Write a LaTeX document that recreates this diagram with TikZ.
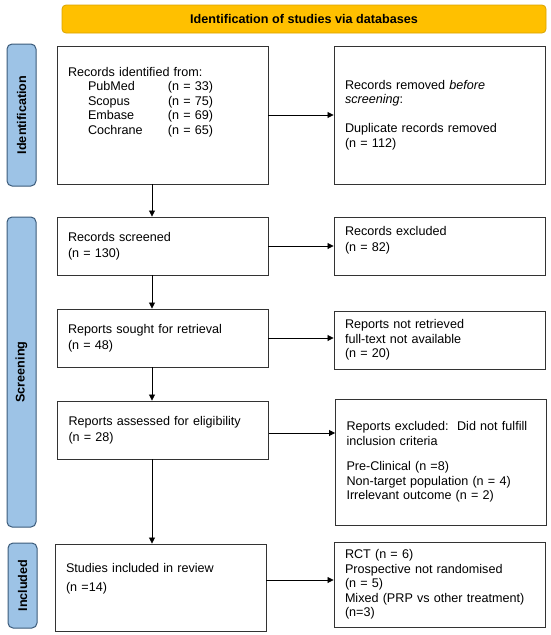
\documentclass[tikz,border=0pt]{standalone}
\usepackage{fontspec}
\setmainfont{Liberation Sans}
\usepackage{xcolor}
\usepackage{tikz}
\usetikzlibrary{arrows.meta}

\definecolor{bannergold}{HTML}{FFC000}
\definecolor{bannerline}{HTML}{D9A300}
\definecolor{phaseblue}{HTML}{9DC3E6}
\definecolor{phaseline}{HTML}{3B5B7A}

\begin{document}
\begin{tikzpicture}[
  x=1pt, y=-1pt,
  every node/.style={font=\fontsize{12.6}{14.5}\selectfont},
  >={Triangle[length=6pt, width=6pt]},
  box/.style={draw=black!80, line width=0.9pt, inner xsep=11pt, inner ysep=0pt,
              text width=189pt, align=left, minimum height=58pt},
  phase/.style={draw=phaseline, fill=phaseblue, line width=1pt, rounded corners=5pt,
                rotate=90, minimum height=29pt, inner sep=0pt,
                font=\fontsize{12.6}{14.5}\selectfont\bfseries},
  banner/.style={draw=bannerline, fill=bannergold, line width=0.8pt, rounded corners=4pt,
                 minimum width=484pt, minimum height=28pt, inner sep=0pt,
                 font=\fontsize{12.6}{14.5}\selectfont\bfseries},
  flow/.style={->, line width=0.8pt},
]
  \useasboundingbox (0,0) rectangle (550,635);

  % Header and phase labels
  \node[banner] (head) at (304,19) {Identification of studies via databases};
  \node[phase, minimum width=142pt] (idlab)  at (21.5,115)   {Identification};
  \node[phase, minimum width=310pt] (scrlab) at (21.5,372)   {Screening};
  \node[phase, minimum width=85pt]  (inclab) at (22.5,585.5) {Included};

  % Left column
  \node[box, minimum height=138pt] (idn) at (162.5,115)
    {Records identified from:\\
     \hspace*{20pt}\makebox[80pt][l]{PubMed}(n = 33)\\
     \hspace*{20pt}\makebox[80pt][l]{Scopus}(n = 75)\\
     \hspace*{20pt}\makebox[80pt][l]{Embase}(n = 69)\\
     \hspace*{20pt}\makebox[80pt][l]{Cochrane}(n = 65)\\[14.5pt]\mbox{}};
  \node[box] (scr) at (162.5,246)
    {Records screened\\[2pt] (n = 130)};
  \node[box] (sought) at (162.5,338)
    {Reports sought for retrieval\\[2pt] (n = 48)};
  \node[box] (assess) at (163,430)
    {Reports assessed for eligibility\\[1pt] (n = 28)};
  \node[box, minimum height=87pt] (incl) at (160.5,587.5)
    {Studies included in review\\[5pt] (n =14)\\[6pt]\mbox{}};

  % Right column
  \node[box, minimum height=138pt] (dup) at (439.5,115)
    {Records removed \textit{before}\\ \textit{screening}:\\[14.5pt]
     Duplicate records removed\\ (n = 112)};
  \node[box] (exc) at (439.5,246)
    {Records excluded\\[2pt] (n = 82)\\\mbox{}};
  \node[box] (notret) at (439.5,340)
    {Reports not retrieved\\ full-text not available\\ (n = 20)};
  \node[box, minimum height=126pt] (exel) at (441,462)
    {Reports excluded:\ \ Did not fulfill\\ inclusion criteria\\[11pt]
     Pre-Clinical (n =8)\\ Non-target population (n = 4)\\ Irrelevant outcome (n = 2)};
  \node[box, minimum height=85pt] (types) at (439.5,584.5)
    {RCT (n = 6)\\ Prospective not randomised\\ (n = 5)\\
     Mixed (PRP vs other treatment)\\ (n=3)};

  % Arrows down the left column
  \draw[flow] ([xshift=-10.5pt]idn.south)    -- ([xshift=-10.5pt]idn.south |- scr.north);
  \draw[flow] ([xshift=-10.5pt]scr.south)    -- ([xshift=-10.5pt]scr.south |- sought.north);
  \draw[flow] ([xshift=-10.5pt]sought.south) -- ([xshift=-10.5pt]sought.south |- assess.north);
  \draw[flow] ([xshift=-11pt]assess.south)   -- ([xshift=-11pt]assess.south |- incl.north);
  % Arrows to the right column
  \draw[flow] (idn.east)    -- (idn.east -| dup.west);
  \draw[flow] (scr.east)    -- (scr.east -| exc.west);
  \draw[flow] (sought.east) -- (sought.east -| notret.west);
  \draw[flow] ([yshift=-3pt]assess.east) -- ([yshift=-3pt]assess.east -| exel.west);
  \draw[flow] ([yshift=7.5pt]incl.east)  -- ([yshift=7.5pt]incl.east -| types.west);
\end{tikzpicture}
\end{document}
